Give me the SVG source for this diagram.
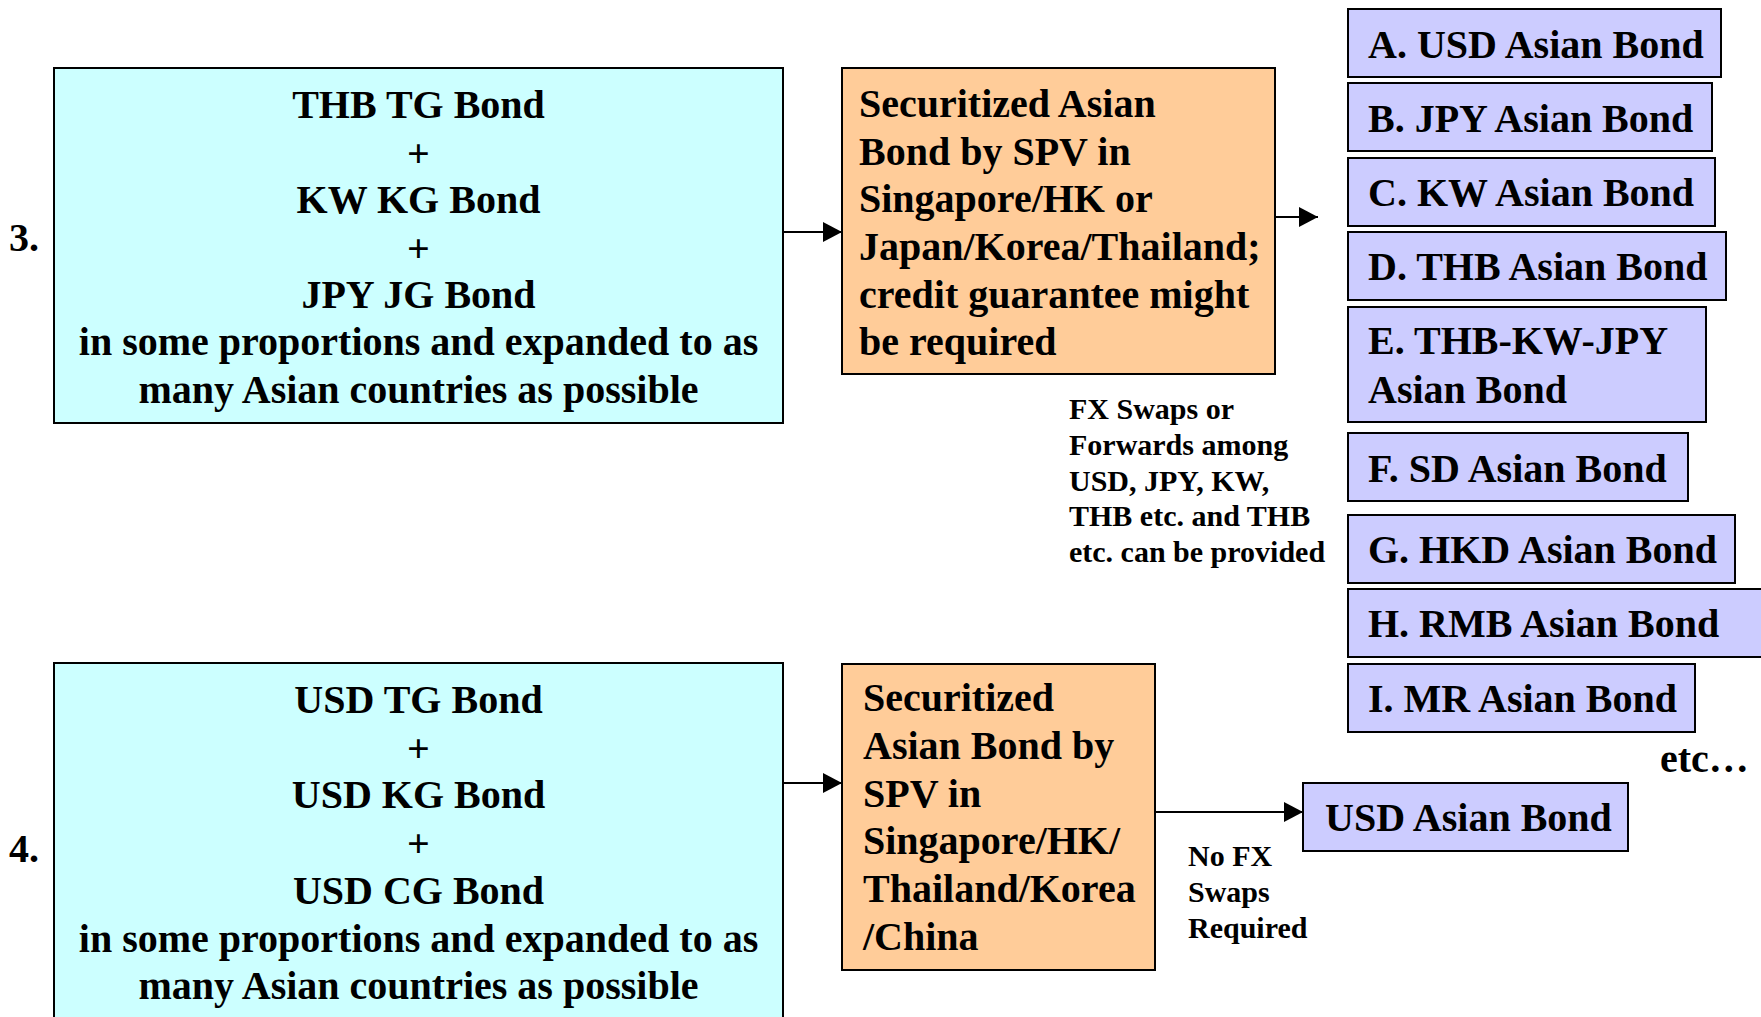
<svg xmlns="http://www.w3.org/2000/svg" width="1761" height="1017" viewBox="0 0 1761 1017">
  <style>
    text { font-family: "Liberation Serif", "Times New Roman", serif; font-weight: bold; fill: #000; }
    .big { font-size: 40px; }
    .small { font-size: 30px; }
    .mid { text-anchor: middle; }
    .pool { fill: #CCFFFF; stroke: #000; stroke-width: 2; }
    .spv { fill: #FFCC99; stroke: #000; stroke-width: 2; }
    .bond { fill: #CCCCFF; stroke: #000; stroke-width: 2; }
    .wire { fill: none; stroke: #000; stroke-width: 2; }
  </style>
  <defs>
    <marker id="head" markerUnits="userSpaceOnUse" markerWidth="20" markerHeight="20" viewBox="0 0 20 20" refX="19" refY="10" orient="auto">
      <path d="M0,0 L19,10 L0,20 Z" fill="#000"/>
    </marker>
  </defs>
  <rect width="1761" height="1017" fill="#fff"/>

  <!-- row labels -->
  <text class="big" x="9" y="251">3.</text>
  <text class="big" x="9" y="862">4.</text>

  <!-- scheme 3: currency-mixed pool -->
  <g id="pool3">
    <rect class="pool" x="54" y="68" width="729" height="355"/>
    <text class="big mid" x="418.5" y="118">THB TG Bond</text>
    <text class="big mid" x="418.5" y="166.5">+</text>
    <text class="big mid" x="418.5" y="213">KW KG Bond</text>
    <text class="big mid" x="418.5" y="261.5">+</text>
    <text class="big mid" x="418.5" y="308">JPY JG Bond</text>
    <text class="big mid" x="418.5" y="355">in some proportions and expanded to as</text>
    <text class="big mid" x="418.5" y="402.5">many Asian countries as possible</text>
  </g>

  <g id="spv3">
    <rect class="spv" x="842" y="68" width="433" height="306"/>
    <text class="big" x="859" y="117">Securitized Asian</text>
    <text class="big" x="859" y="164.5">Bond by SPV in</text>
    <text class="big" x="859" y="212">Singapore/HK or</text>
    <text class="big" x="859" y="260">Japan/Korea/Thailand;</text>
    <text class="big" x="859" y="307.5">credit guarantee might</text>
    <text class="big" x="859" y="355">be required</text>
  </g>

  <g id="fx-note">
    <text class="small" x="1069" y="419">FX Swaps or</text>
    <text class="small" x="1069" y="455">Forwards among</text>
    <text class="small" x="1069" y="491">USD, JPY, KW,</text>
    <text class="small" x="1069" y="526">THB etc. and THB</text>
    <text class="small" x="1069" y="562">etc. can be provided</text>
  </g>

  <!-- resulting Asian bonds -->
  <g id="bond-a">
    <rect class="bond" x="1348" y="9" width="373" height="68"/>
    <text class="big" x="1368" y="58">A. USD Asian Bond</text>
  </g>
  <g id="bond-b">
    <rect class="bond" x="1348" y="83" width="364" height="68"/>
    <text class="big" x="1368" y="132">B. JPY Asian Bond</text>
  </g>
  <g id="bond-c">
    <rect class="bond" x="1348" y="158" width="367" height="68"/>
    <text class="big" x="1368" y="206">C. KW Asian Bond</text>
  </g>
  <g id="bond-d">
    <rect class="bond" x="1348" y="232" width="378" height="68"/>
    <text class="big" x="1368" y="280">D. THB Asian Bond</text>
  </g>
  <g id="bond-e">
    <rect class="bond" x="1348" y="307" width="358" height="115"/>
    <text class="big" x="1368" y="354">E. THB-KW-JPY</text>
    <text class="big" x="1368" y="403">Asian Bond</text>
  </g>
  <g id="bond-f">
    <rect class="bond" x="1348" y="433" width="340" height="68"/>
    <text class="big" x="1368" y="482">F. SD Asian Bond</text>
  </g>
  <g id="bond-g">
    <rect class="bond" x="1348" y="515" width="387" height="68"/>
    <text class="big" x="1368" y="563">G. HKD Asian Bond</text>
  </g>
  <g id="bond-h">
    <rect class="bond" x="1348" y="589" width="430" height="68"/>
    <text class="big" x="1368" y="637">H. RMB Asian Bond</text>
  </g>
  <g id="bond-i">
    <rect class="bond" x="1348" y="664" width="347" height="68"/>
    <text class="big" x="1368" y="712">I. MR Asian Bond</text>
  </g>
  <text class="big" x="1660" y="772">etc…</text>

  <!-- scheme 4: USD-only pool -->
  <g id="pool4">
    <rect class="pool" x="54" y="663" width="729" height="370"/>
    <text class="big mid" x="418.5" y="713">USD TG Bond</text>
    <text class="big mid" x="418.5" y="761.5">+</text>
    <text class="big mid" x="418.5" y="808">USD KG Bond</text>
    <text class="big mid" x="418.5" y="857">+</text>
    <text class="big mid" x="418.5" y="904">USD CG Bond</text>
    <text class="big mid" x="418.5" y="952">in some proportions and expanded to as</text>
    <text class="big mid" x="418.5" y="999">many Asian countries as possible</text>
  </g>

  <g id="spv4">
    <rect class="spv" x="842" y="664" width="313" height="306"/>
    <text class="big" x="863" y="711">Securitized</text>
    <text class="big" x="863" y="758.5">Asian Bond by</text>
    <text class="big" x="863" y="806.5">SPV in</text>
    <text class="big" x="863" y="854">Singapore/HK/</text>
    <text class="big" x="863" y="902">Thailand/Korea</text>
    <text class="big" x="863" y="950">/China</text>
  </g>

  <g id="usd-bond">
    <rect class="bond" x="1303" y="783" width="325" height="68"/>
    <text class="big" x="1325" y="831">USD Asian Bond</text>
  </g>

  <g id="nofx-note">
    <text class="small" x="1188" y="866">No FX</text>
    <text class="small" x="1188" y="902">Swaps</text>
    <text class="small" x="1188" y="938">Required</text>
  </g>

  <!-- connectors -->
  <g id="connectors">
    <path class="wire" d="M783,232 H842" marker-end="url(#head)"/>
    <path class="wire" d="M1275,217 H1318" marker-end="url(#head)"/>
    <path class="wire" d="M783,783 H842" marker-end="url(#head)"/>
    <path class="wire" d="M1155,812 H1303" marker-end="url(#head)"/>
  </g>
</svg>
